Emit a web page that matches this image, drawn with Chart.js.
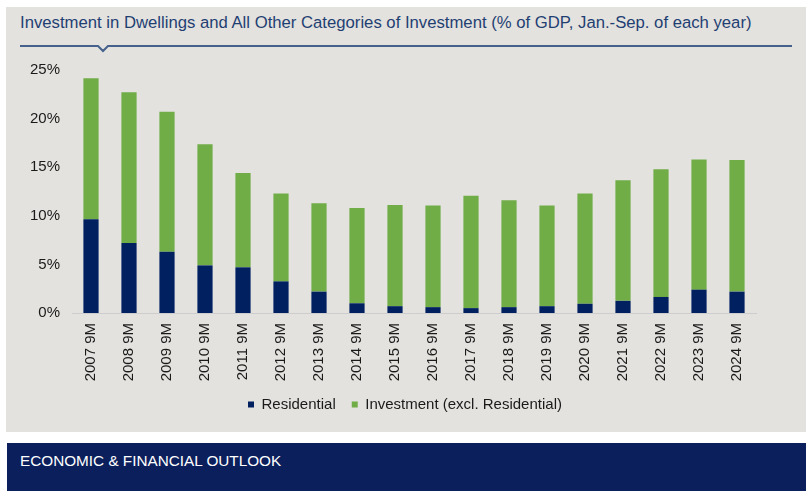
<!DOCTYPE html>
<html>
<head>
<meta charset="utf-8">
<script src="https://cdn.jsdelivr.net/npm/chart.js@4/dist/chart.umd.min.js"></script>
<style>
  html, body { margin: 0; padding: 0; background: #fff; }
  #page { position: relative; width: 810px; height: 491px; overflow: hidden; }
  #panel { position: absolute; left: 6px; top: 7px; width: 800px; height: 425px; background: #e3e2de; }
  #title { position: absolute; left: 20px; top: 13px; font: 16.7px "Liberation Sans", Arial, sans-serif; color: #1f3f73; white-space: nowrap; }
  #rule { position: absolute; left: 0; top: 0; }
  #chartBox { position: absolute; left: 0; top: 0; width: 810px; height: 432px; }
  #footer { position: absolute; left: 7px; top: 443px; width: 799px; height: 48px; background: #0b1f5c; }
  #footer span { position: absolute; left: 13px; top: 9px; font: 15.3px "Liberation Sans", Arial, sans-serif; color: #fff; white-space: nowrap; }
</style>
</head>
<body>
<div id="page">
  <div id="panel"></div>
  <div id="title">Investment in Dwellings and All Other Categories of Investment (% of GDP, Jan.-Sep. of each year)</div>
  <svg id="rule" width="810" height="60"><polyline points="20,46 98,46 103,51 108,46 792,46" fill="none" stroke="#46628c" stroke-width="2"/></svg>
  <div id="chartBox"><canvas id="graphic"></canvas></div>
  <div id="footer"><span>ECONOMIC &amp; FINANCIAL OUTLOOK</span></div>
</div>
<script>
  // values, % of GDP
  const categories = ["2007 9M", "2008 9M", "2009 9M", "2010 9M", "2011 9M", "2012 9M", "2013 9M", "2014 9M", "2015 9M",
    "2016 9M", "2017 9M", "2018 9M", "2019 9M", "2020 9M", "2021 9M", "2022 9M", "2023 9M", "2024 9M"];
  const residential = [9.65, 7.2, 6.3, 4.9, 4.7, 3.25, 2.2, 1.0, 0.7, 0.6, 0.5, 0.6, 0.7, 0.95, 1.25, 1.65, 2.4, 2.2];
  const otherInvestment = [14.5, 15.5, 14.4, 12.45, 9.7, 9.05, 9.1, 9.8, 10.4, 10.45, 11.55, 11.0, 10.35, 11.35, 12.4, 13.15, 13.4, 13.55];
  const yTicks = [0, 5, 10, 15, 20, 25];

  const labelFont = { family: "'Liberation Sans', Arial, sans-serif", size: 15 };

  var ctx = document.getElementById("graphic").getContext("2d");
  var chart = new Chart(ctx, {
    type: "bar",
    data: {
      labels: categories,
      datasets: [
        {
          label: "Residential",
          backgroundColor: "#002060",
          data: residential,
        },
        {
          label: "Investment (excl. Residential)",
          backgroundColor: "#70ad47",
          data: otherInvestment,
        },
      ],
    },
    options: {
      responsive: true,
      maintainAspectRatio: false,
      animation: false,
      layout: { padding: { top: 70, right: 0, bottom: 10, left: 0 } },
      datasets: { bar: { barPercentage: 0.4, categoryPercentage: 1 } },
      plugins: {
        tooltip: { enabled: false },
        legend: {
          position: "bottom",
          labels: {
            boxWidth: 6,
            boxHeight: 6,
            padding: 16,
            color: "#1a1a1a",
            font: labelFont,
          },
        },
      },
      scales: {
        x: {
          stacked: true,
          grid: { display: false, drawTicks: false },
          border: { display: true, color: "#cdcdcd", width: 1 },
          ticks: {
            autoSkip: false,
            minRotation: 90,
            maxRotation: 90,
            padding: 10,
            color: "#1a1a1a",
            font: labelFont,
          },
          afterFit: function (scale) { scale.height = 68; },
        },
        y: {
          stacked: true,
          min: 0,
          max: yTicks[yTicks.length - 1],
          grid: { display: false, drawTicks: false },
          border: { display: false },
          afterBuildTicks: function (scale) { scale.ticks = yTicks.map(v => ({ value: v })); },
          ticks: {
            padding: 12,
            color: "#1a1a1a",
            font: labelFont,
            callback: function (v) { return v + "%"; },
          },
          afterFit: function (scale) { scale.width = 72; },
        },
        // empty right-hand space so the legend stays centred on the page
        yRight: {
          position: "right",
          grid: { display: false, drawTicks: false },
          border: { display: false },
          ticks: { display: false },
          afterFit: function (scale) { scale.width = 54; },
        },
      },
    },
  });
</script>
</body>
</html>
